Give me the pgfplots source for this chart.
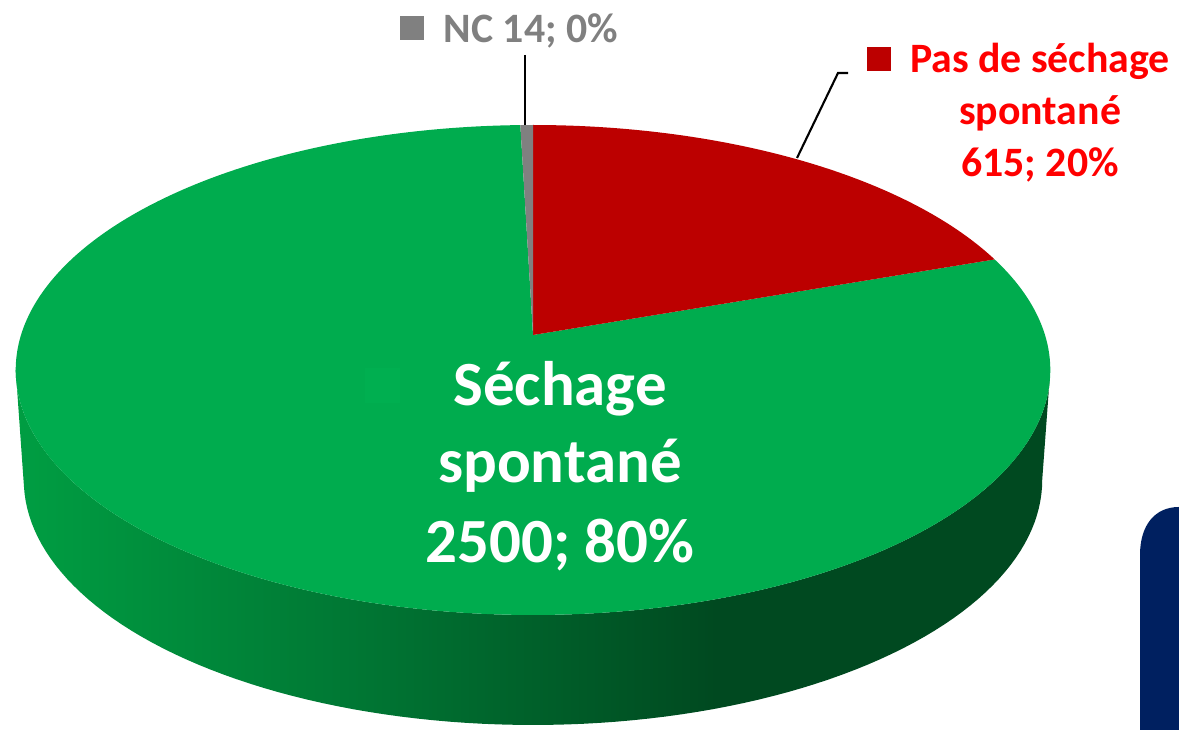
\documentclass[border=0pt]{standalone}
\usepackage{pgfplots}
\pgfplotsset{compat=1.18}
\usepackage{fontspec}
\setmainfont{Carlito}
\definecolor{topgreen}{RGB}{0,172,78}
\definecolor{keygreen}{RGB}{0,175,80}
\definecolor{pred}{RGB}{188,0,0}
\definecolor{pgray}{RGB}{128,128,128}
\definecolor{labred}{RGB}{255,0,0}
\definecolor{navy}{RGB}{0,32,96}
\pgfdeclarehorizontalshading{sideshade}{100bp}{rgb(0bp)=(0,0.62,0.26); rgb(25bp)=(0,0.62,0.26); rgb(42bp)=(0,0.46,0.2); rgb(59bp)=(0,0.285,0.125); rgb(100bp)=(0,0.285,0.125)}
% data
\def\vSech{2500}
\def\vPas{615}
\def\vNC{14}
\pgfmathsetmacro\tot{\vSech+\vPas+\vNC}
\pgfmathsetmacro\aOne{360*(\vPas/\tot)}
\pgfmathsetmacro\aTwo{\aOne+360*(\vSech/\tot)}
\begin{document}
\begin{tikzpicture}
\begin{axis}[scale only axis, width=11.79cm, height=7.30cm,
  xmin=0, xmax=1179, ymin=0, ymax=730, hide axis,
  declare function={
    PX(\t)=533+512*sin(\t)/(1+0.1429*cos(\t));
    PY(\t)=395+240*cos(\t)/(1+0.1429*cos(\t));
    PXB(\t)=533+504*sin(\t)/(1+0.1429*cos(\t));
    PYB(\t)=285+240*cos(\t)/(1+0.1429*cos(\t));
  }]
\path (axis cs:0,0) rectangle (axis cs:1179,730);
% side of the pie
\addplot[draw=none, shading=sideshade, domain=0:2, samples=201, variable=\s]
  ({(\s<=1) ? PX(98.2+163.6*\s) : PXB(261.8-163.6*(\s-1))},
   {(\s<=1) ? PY(98.2+163.6*\s) : PYB(261.8-163.6*(\s-1))}) -- cycle;
% top slices
\addplot[draw=none, fill=topgreen, domain=\aOne:\aTwo, samples=300]
  ({PX(x)},{PY(x)}) -- (axis cs:533,395) -- cycle;
\addplot[draw=none, fill=pred, domain=0:\aOne, samples=100]
  ({PX(x)},{PY(x)}) -- (axis cs:533,395) -- cycle;
\addplot[draw=none, fill=pgray, domain=\aTwo:360, samples=10]
  ({PX(x)},{PY(x)}) -- (axis cs:533,395) -- cycle;
% leader lines
\draw[black, line width=0.6pt] (axis cs:797,572) -- (axis cs:838,657) -- (axis cs:848,657);
\draw[black, line width=0.6pt] (axis cs:525,675) -- (axis cs:525,605);
% labels
\fill[keygreen] (axis cs:365,327) rectangle (axis cs:400,362);
\node[anchor=base, white, inner sep=0pt, font=\fontsize{17.9}{20}\selectfont\bfseries] at (axis cs:560,324) {Séchage};
\node[anchor=base, white, inner sep=0pt, font=\fontsize{17.9}{20}\selectfont\bfseries] at (axis cs:560,247) {spontané};
\node[anchor=base, white, inner sep=0pt, font=\fontsize{17.9}{20}\selectfont\bfseries] at (axis cs:560,167) {2500; 80\%};
\fill[pred] (axis cs:867,659) rectangle (axis cs:891,683);
\node[anchor=base, labred, inner sep=0pt, font=\fontsize{11.9}{14}\selectfont\bfseries] at (axis cs:1040,657) {Pas de séchage};
\node[anchor=base, labred, inner sep=0pt, font=\fontsize{11.9}{14}\selectfont\bfseries] at (axis cs:1040,605) {spontané};
\node[anchor=base, labred, inner sep=0pt, font=\fontsize{11.9}{14}\selectfont\bfseries] at (axis cs:1040,553) {615; 20\%};
\fill[pgray] (axis cs:400,690) rectangle (axis cs:424,714);
\node[anchor=base west, pgray, inner sep=0pt, font=\fontsize{11.9}{14}\selectfont\bfseries] at (axis cs:443,687) {NC 14; 0\%};
% background shape
\fill[navy] (axis cs:1140,0) -- (axis cs:1140,175) .. controls (axis cs:1140,205) and (axis cs:1155,223) .. (axis cs:1179,223) -- (axis cs:1179,0) -- cycle;
\end{axis}
\end{tikzpicture}
\end{document}
